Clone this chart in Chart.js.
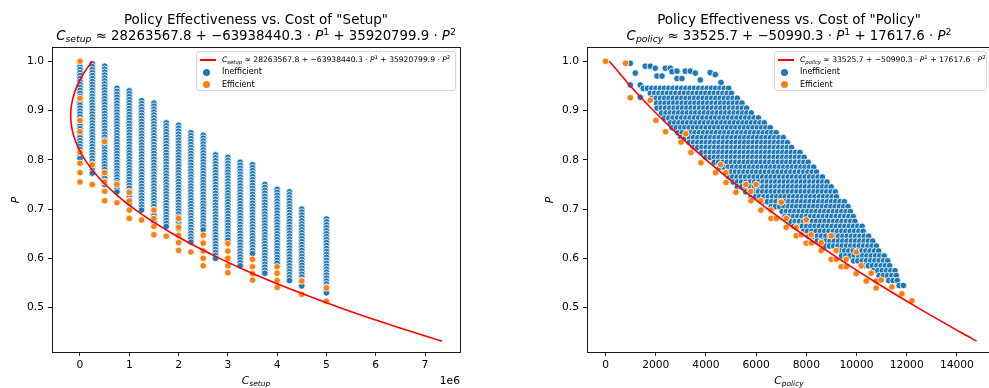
<!DOCTYPE html>
<html>
<head>
<meta charset="utf-8">
<script src="https://cdn.jsdelivr.net/npm/chart.js@4.4.1/dist/chart.umd.min.js"></script>
<style>
body { margin: 0; width: 989px; height: 388px; overflow: hidden; background: #fff; position: relative; font-family: "DejaVu Sans", sans-serif; color: #000; }
canvas { position: absolute; top: 0; }
#setupChart { left: 0; }
#policyChart { left: 495px; }
.txt { position: absolute; white-space: nowrap; transform: translate(-50%, -50%); }
.t1 { font-size: 13.5px; }
.t2 { font-size: 13.3px; }
sub, sup { font-size: 70%; line-height: 0; }
sub { vertical-align: -0.3em; }
sup { vertical-align: 0.5em; }
.lab { font-size: 10.7px; }
.ylab { transform: translate(-50%, -50%) rotate(-90deg); }
.off { transform: translate(-100%, -50%); }
.legend { position: absolute; top: 51px; height: 40px; border: 1px solid #d6d6d6; border-radius: 3px; background: #fff; font-size: 8px; box-sizing: border-box; }
.legend .row { position: absolute; left: 0; right: 0; height: 12px; }
.legend .ln { position: absolute; left: 3px; width: 16px; height: 1.6px; top: 5.2px; background: red; }
.legend .dot { position: absolute; left: 6px; width: 7px; height: 7px; top: 2.5px; border-radius: 50%; }
.legend .lbl { position: absolute; left: 25px; top: 0; line-height: 12px; white-space: nowrap; }
.legend .math { font-size: 7.6px; }
</style>
</head>
<body>
<canvas id="setupChart" width="495" height="388"></canvas>
<canvas id="policyChart" width="505" height="388"></canvas>

<div class="txt t1" style="left:256px; top:19px;">Policy Effectiveness vs. Cost of "Setup"</div>
<div class="txt t2" style="left:256px; top:35px;"><i>C</i><sub><i>setup</i></sub> ≈ 28263567.8 + −63938440.3 · <i>P</i><sup>1</sup> + 35920799.9 · <i>P</i><sup>2</sup></div>
<div class="legend" style="left:196px; width:260px;">
  <div class="row" style="top:2px;"><span class="ln"></span><span class="lbl math"><i>C</i><sub><i>setup</i></sub> ≈ 28263567.8 + −63938440.3 · <i>P</i><sup>1</sup> + 35920799.9 · <i>P</i><sup>2</sup></span></div>
  <div class="row" style="top:14.4px;"><span class="dot" style="background:#1f77b4"></span><span class="lbl">Inefficient</span></div>
  <div class="row" style="top:26.7px;"><span class="dot" style="background:#ff7f0e"></span><span class="lbl">Efficient</span></div>
</div>
<div class="txt lab" style="left:256px; top:380px;"><i>C</i><sub><i>setup</i></sub></div>
<div class="txt lab off" style="left:460px; top:380px;">1e6</div>
<div class="txt lab ylab" style="left:15px; top:200px;"><i>P</i></div>

<div class="txt t1" style="left:789px; top:19px;">Policy Effectiveness vs. Cost of "Policy"</div>
<div class="txt t2" style="left:789px; top:35px;"><i>C</i><sub><i>policy</i></sub> ≈ 33525.7 + −50990.3 · <i>P</i><sup>1</sup> + 17617.6 · <i>P</i><sup>2</sup></div>
<div class="legend" style="left:774px; width:213px;">
  <div class="row" style="top:2px;"><span class="ln"></span><span class="lbl math"><i>C</i><sub><i>policy</i></sub> ≈ 33525.7 + −50990.3 · <i>P</i><sup>1</sup> + 17617.6 · <i>P</i><sup>2</sup></span></div>
  <div class="row" style="top:14.4px;"><span class="dot" style="background:#1f77b4"></span><span class="lbl">Inefficient</span></div>
  <div class="row" style="top:26.7px;"><span class="dot" style="background:#ff7f0e"></span><span class="lbl">Efficient</span></div>
</div>
<div class="txt lab" style="left:789px; top:380px;"><i>C</i><sub><i>policy</i></sub></div>
<div class="txt lab ylab" style="left:549px; top:200px;"><i>P</i></div>

<script>
// ---- "Setup" panel ----
// columns of inefficient policies: setup cost, highest and lowest P in the column
const setupCols = [0, 250000, 500000, 750000, 1000000, 1250000, 1500000, 1750000, 2000000, 2250000,
    2500000, 2750000, 3000000, 3250000, 3500000, 3750000, 4000000, 4250000, 4500000, 5000000];
const setupTop = [0.995, 0.995, 0.99, 0.945, 0.94, 0.92, 0.915, 0.875, 0.87, 0.855,
    0.85, 0.81, 0.805, 0.795, 0.79, 0.75, 0.74, 0.735, 0.70, 0.68];
const setupBottom = [0.80, 0.77, 0.745, 0.73, 0.71, 0.695, 0.675, 0.66, 0.655, 0.63,
    0.655, 0.60, 0.635, 0.58, 0.605, 0.565, 0.59, 0.555, 0.54, 0.525];

// efficient policies
const setupEffC = [0, 0, 0, 0, 0, 0, 0, 0,
    250000, 250000,
    500000, 500000, 500000, 500000, 500000,
    750000, 750000,
    1000000, 1000000, 1000000, 1000000,
    1250000,
    1500000, 1500000, 1500000, 1500000,
    1750000,
    2000000, 2000000, 2000000, 2000000, 2000000,
    2250000,
    2500000, 2500000, 2500000, 2500000, 2500000,
    3000000, 3000000, 3000000, 3000000, 3000000,
    3500000, 3500000, 3500000, 3500000,
    4000000, 4000000, 4000000, 4000000,
    4500000, 4500000,
    5000000, 5000000];
const setupEffP = [1.0, 0.925, 0.88, 0.857, 0.815, 0.793, 0.774, 0.755,
    0.79, 0.75,
    0.837, 0.774, 0.755, 0.736, 0.717,
    0.75, 0.713,
    0.734, 0.717, 0.698, 0.681,
    0.678,
    0.698, 0.681, 0.665, 0.648,
    0.645,
    0.681, 0.663, 0.647, 0.632, 0.616,
    0.613,
    0.647, 0.631, 0.615, 0.60, 0.585,
    0.63, 0.615, 0.60, 0.585, 0.571,
    0.598, 0.583, 0.569, 0.556,
    0.583, 0.57, 0.555, 0.541,
    0.554, 0.527,
    0.54, 0.513];

// fitted curve, values taken from the formula in the title
const setupFitP = [1.0, 0.975, 0.95, 0.925, 0.9, 0.875, 0.85, 0.825, 0.8, 0.775, 0.75, 0.725,
    0.7, 0.675, 0.65, 0.625, 0.6, 0.575, 0.55, 0.525, 0.5, 0.475, 0.45, 0.432];
const setupFitC = [245927, 70799, -59429, -144555, -185181, -180705, -131329, -37051, 102128, 286207, 515188, 789069,
    1107852, 1471535, 1880120, 2333605, 2831992, 3375279, 3963468, 4596557, 5274548, 6000439, 6765232, 7345845];

const setupTicks = [0, 1000000, 2000000, 3000000, 4000000, 5000000, 6000000, 7000000];

// ---- "Policy" panel ----
// rows of the dense inefficient cloud: P and the cost range covered
const policyRowP = [0.945, 0.935, 0.925, 0.915, 0.905, 0.895, 0.885, 0.875, 0.865, 0.855, 0.845, 0.835, 0.825, 0.815,
    0.805, 0.795, 0.785, 0.775, 0.765, 0.755, 0.745, 0.735, 0.725, 0.715, 0.705, 0.695, 0.685, 0.675,
    0.665, 0.655, 0.645, 0.635, 0.625, 0.615, 0.605, 0.595, 0.585, 0.575, 0.565, 0.555, 0.545];
const policyRowLo = [1500, 1700, 1850, 1950, 2050, 2150, 2350, 2500, 2650, 2800, 3000, 3250, 3500, 3750,
    4000, 4250, 4550, 4750, 4900, 5000, 5250, 5500, 5800, 6200, 6600, 6950, 7150, 7300,
    7500, 7800, 8100, 8350, 8750, 9100, 9400, 9800, 10300, 10600, 10900, 11200, 11700];
const policyRowHi = [5000, 5150, 5300, 5500, 5700, 5900, 6150, 6450, 6650, 6850, 7100, 7300, 7550, 7750,
    7950, 8150, 8400, 8550, 8700, 8850, 9050, 9200, 9350, 9550, 9700, 9850, 9950, 10100,
    10250, 10400, 10550, 10700, 10850, 11000, 11150, 11300, 11400, 11550, 11650, 11750, 11950];

// scattered inefficient policies above the cloud
const policySparseC = [984, 984, 1183, 1382, 1382, 1582, 1781, 1980, 2047, 2247, 2378, 2578,
    2645, 2845, 2845, 3044, 3175, 3375, 3574, 3773, 4171, 4371, 4597];
const policySparseP = [0.996, 0.952, 0.976, 0.952, 0.927, 0.99, 0.99, 0.986, 0.97, 0.97, 0.986, 0.986,
    0.979, 0.98, 0.965, 0.965, 0.98, 0.98, 0.976, 0.962, 0.977, 0.973, 0.957];

const policyEffC = [0, 797, 984, 1781, 2008, 2390, 3203, 3004, 3402, 3801,
    4582, 4383, 4797, 4797, 5195, 5594, 5992, 5793, 5793, 6191,
    6191, 6590, 6590, 6801, 7000, 7200, 7200, 7598, 7598, 7797,
    7996, 7996, 8195, 8195, 8594, 8594, 8992, 8992, 9191, 9191,
    9390, 9590, 9590, 9988, 9988, 10187, 10386, 10586, 10785, 10785,
    10984, 11410, 11809, 12207];
const policyEffP = [1.0, 0.996, 0.926, 0.921, 0.88, 0.857, 0.853, 0.836, 0.815, 0.794,
    0.79, 0.774, 0.774, 0.754, 0.734, 0.75, 0.75, 0.736, 0.717, 0.717,
    0.698, 0.698, 0.681, 0.681, 0.714, 0.681, 0.663, 0.663, 0.646, 0.648,
    0.631, 0.678, 0.648, 0.631, 0.632, 0.616, 0.646, 0.598, 0.616, 0.598,
    0.583, 0.598, 0.583, 0.613, 0.569, 0.585, 0.554, 0.57, 0.554, 0.54,
    0.556, 0.542, 0.528, 0.514];

const policyFitP = [1.0, 0.95, 0.9, 0.85, 0.8, 0.75, 0.7, 0.65, 0.6, 0.55, 0.5, 0.45, 0.432];
const policyFitC = [153, 985, 1905, 2913, 4009, 5193, 6465, 7825, 9274, 10810, 12435, 14148, 14786];

const policyTicks = [0, 2000, 4000, 6000, 8000, 10000, 12000, 14000];
const pTicks = [0.5, 0.6, 0.7, 0.8, 0.9, 1.0];

const blue = '#1f77b4';
const orange = '#ff7f0e';

function pairs(xs, ys) {
    return xs.map((x, i) => ({ x: x, y: ys[i] }));
}

// markers stacked down each setup-cost column
function columnPoints(xs, tops, bottoms, step) {
    const pts = [];
    xs.forEach((x, i) => {
        for (let p = tops[i]; p >= bottoms[i] - 1e-9; p -= step) pts.push({ x: x, y: p });
    });
    return pts;
}

// markers along each row of the policy cloud
function rowPoints(ps, los, his, step) {
    const pts = [];
    ps.forEach((p, i) => {
        const shift = i % 2 ? step / 2 : 0;
        for (let c = los[i] + shift; c <= his[i]; c += step) pts.push({ x: c, y: p });
    });
    return pts;
}

// matplotlib style box round the plot area
const framePlugin = {
    id: 'frame',
    afterDraw(chart) {
        const { ctx, chartArea: a } = chart;
        ctx.save();
        ctx.strokeStyle = '#000';
        ctx.lineWidth = 0.9;
        ctx.strokeRect(a.left + 0.5, a.top + 0.5, a.right - a.left, a.bottom - a.top);
        ctx.restore();
    }
};

function axisGrid() {
    return { display: true, drawOnChartArea: false, drawTicks: true, tickLength: 4, color: '#000', lineWidth: 0.9 };
}

function makeChart(id, cfg) {
    const tickFont = { family: 'DejaVu Sans', size: 10.7 };
    const ctx = document.getElementById(id).getContext('2d');
    return new Chart(ctx, {
        type: 'scatter',
        data: {
            datasets: [
                { data: cfg.fit, showLine: true, fill: false, borderColor: 'red', borderWidth: 1.6, pointRadius: 0, tension: 0.3, order: 0 },
                { data: cfg.eff, backgroundColor: orange, borderColor: '#fff', borderWidth: 0.8, pointRadius: 3.3, order: 1 },
                { data: cfg.ineff, backgroundColor: blue, borderColor: '#fff', borderWidth: 0.8, pointRadius: 3.3, order: 2 },
            ],
        },
        options: {
            responsive: false,
            animation: false,
            devicePixelRatio: 1,
            layout: { padding: { left: 0, top: 47, right: cfg.padRight, bottom: 0 } },
            plugins: { legend: { display: false }, tooltip: { enabled: false } },
            scales: {
                x: {
                    type: 'linear', min: cfg.xMin, max: cfg.xMax,
                    grid: axisGrid(), border: { display: false },
                    afterBuildTicks: s => { s.ticks = cfg.xTicks.map(v => ({ value: v })); },
                    afterFit: s => { s.height = 36; },
                    ticks: { color: '#000', font: tickFont, padding: 3, autoSkip: false, maxRotation: 0, callback: cfg.xFmt },
                },
                y: {
                    type: 'linear', min: 0.41, max: 1.029,
                    grid: axisGrid(), border: { display: false },
                    afterBuildTicks: s => { s.ticks = pTicks.map(v => ({ value: v })); },
                    afterFit: s => { s.width = cfg.yWidth; },
                    ticks: { color: '#000', font: tickFont, padding: 4, autoSkip: false, callback: v => v.toFixed(1) },
                },
            },
        },
        plugins: [framePlugin],
    });
}

makeChart('setupChart', {
    fit: pairs(setupFitC, setupFitP),
    eff: pairs(setupEffC, setupEffP),
    ineff: columnPoints(setupCols, setupTop, setupBottom, 0.006),
    xMin: -568000, xMax: 7710000, xTicks: setupTicks, xFmt: v => v / 1000000,
    yWidth: 52, padRight: 35,
});

makeChart('policyChart', {
    fit: pairs(policyFitC, policyFitP),
    eff: pairs(policyEffC, policyEffP),
    ineff: pairs(policySparseC, policySparseP).concat(rowPoints(policyRowP, policyRowLo, policyRowHi, 170)),
    xMin: -741, xMax: 15360, xTicks: policyTicks, xFmt: v => String(v),
    yWidth: 92, padRight: 9,
});
</script>
</body>
</html>
